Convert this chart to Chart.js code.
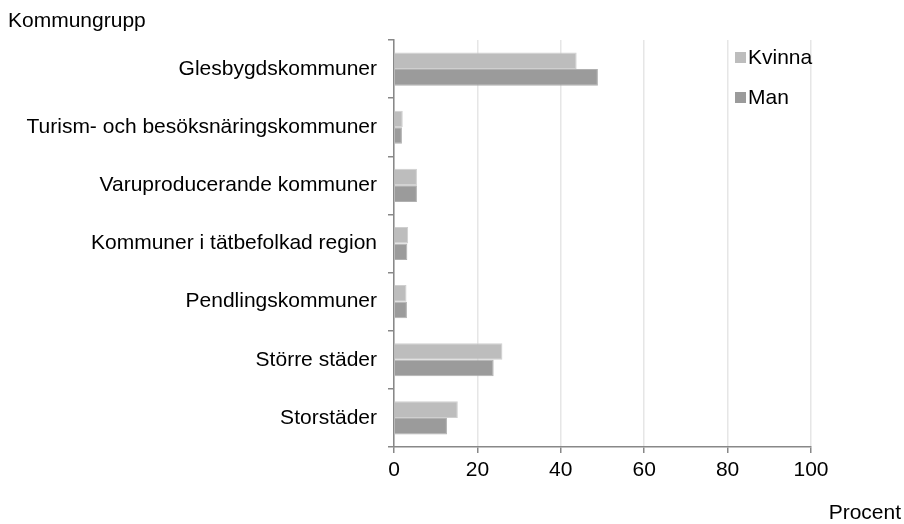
<!DOCTYPE html>
<html>
<head>
<meta charset="utf-8">
<script src="https://cdn.jsdelivr.net/npm/chart.js@4"></script>
<style>
  html, body { margin: 0; padding: 0; background: #fff; }
  #wrap { width: 904px; height: 524px; position: relative; }
</style>
</head>
<body>
<div id="wrap"><canvas id="chart"></canvas></div>
<script>
const categories = [
    'Glesbygdskommuner',
    'Turism- och besöksnäringskommuner',
    'Varuproducerande kommuner',
    'Kommuner i tätbefolkad region',
    'Pendlingskommuner',
    'Större städer',
    'Storstäder'
];
const kvinna = [43.8, 2.1, 5.5, 3.4, 3.0, 26.0, 15.3];
const man = [48.9, 1.9, 5.5, 3.2, 3.1, 23.9, 12.7];
const xTicks = [0, 20, 40, 60, 80, 100];

const FONT = 'Liberation Sans, Arial, sans-serif';
const SIZE = 21;

// axis titles + legend drawn by hand, the chart.js legend can't do this layout
const extras = {
    id: 'extras',
    afterDraw(chart) {
        const ctx = chart.ctx;
        ctx.save();
        ctx.font = SIZE + 'px ' + FONT;
        ctx.fillStyle = '#000';
        ctx.textBaseline = 'middle';
        ctx.textAlign = 'left';
        ctx.fillText('Kommungrupp', 8, 21);
        ctx.textAlign = 'right';
        ctx.fillText('Procent', 901, 513);

        ctx.textAlign = 'left';
        const items = chart.data.datasets;
        items.forEach((ds, i) => {
            const y = 58 + i * 40;
            ctx.fillStyle = ds.backgroundColor;
            ctx.fillRect(735, y - 6, 11, 11);
            ctx.fillStyle = '#000';
            ctx.fillText(ds.label, 748, y);
        });
        ctx.restore();
    }
};

new Chart(document.getElementById('chart'), {
    type: 'bar',
    data: {
        labels: categories,
        datasets: [
            { label: 'Kvinna', data: kvinna, backgroundColor: '#bdbdbd', borderColor: '#cfcfcf', borderWidth: 1 },
            { label: 'Man', data: man, backgroundColor: '#9b9b9b', borderColor: '#b0b0b0', borderWidth: 1 }
        ]
    },
    options: {
        indexAxis: 'y',
        responsive: true,
        maintainAspectRatio: false,
        animation: false,
        layout: { padding: { top: 40, right: 93, left: 0, bottom: 0 } },
        datasets: {
            bar: { categoryPercentage: 0.57, barPercentage: 1 }
        },
        plugins: {
            legend: { display: false },
            tooltip: { enabled: false }
        },
        scales: {
            x: {
                min: 0,
                max: 100,
                afterBuildTicks: (s) => { s.ticks = xTicks.map(v => ({ value: v })); },
                afterFit: (s) => { s.height = 77; },
                grid: {
                    color: '#e6e6e6',
                    lineWidth: 1.5,
                    tickColor: '#888',
                    tickLength: 6,
                    drawTicks: true
                },
                border: { display: true, color: '#888', width: 1.5 },
                ticks: {
                    color: '#000',
                    padding: 5,
                    font: { family: FONT, size: SIZE }
                }
            },
            y: {
                afterFit: (s) => { s.width = 394; },
                grid: {
                    offset: true,
                    drawOnChartArea: false,
                    tickColor: '#888',
                    tickLength: 6,
                    lineWidth: 1.5
                },
                border: { display: true, color: '#888', width: 1.5 },
                ticks: {
                    color: '#000',
                    padding: 11,
                    font: { family: FONT, size: SIZE }
                }
            }
        }
    },
    plugins: [extras]
});
</script>
</body>
</html>
